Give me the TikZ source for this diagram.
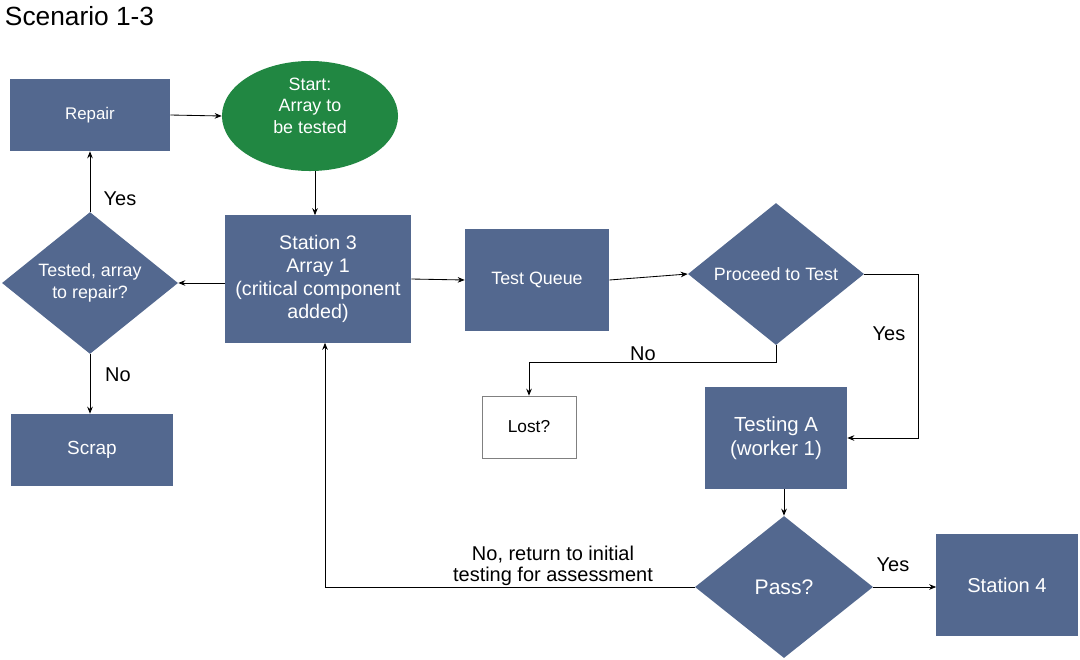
\documentclass[tikz,border=0pt]{standalone}
\usepackage{fontspec}
\setmainfont{Liberation Sans}
\usetikzlibrary{shapes.geometric,arrows.meta}

\definecolor{boxblue}{RGB}{83,104,143}
\definecolor{startgreen}{RGB}{33,135,66}

\tikzset{
  box/.style={rectangle, fill=boxblue, text=white, align=center, inner sep=0pt,
    font=\fontsize{12.7}{15.6}\selectfont},
  decision/.style={diamond, fill=boxblue, text=white, align=center, inner sep=0pt,
    font=\fontsize{12.7}{15.6}\selectfont},
  lbl/.style={font=\fontsize{14.2}{15}\selectfont, align=center},
  arr/.style={line width=0.6pt, -{Stealth[length=5pt,width=4pt]}, black}
}

\begin{document}
\begin{tikzpicture}[x=0.025cm, y=-0.025cm]
  \useasboundingbox (0,0) rectangle (1080,659);

  \node[anchor=west, font=\fontsize{18.7}{20}\selectfont] (title) at (0,16) {Scenario 1-3};

  % left column
  \node[box, minimum width=4cm, minimum height=1.8cm,
    font=\fontsize{12}{15.6}\selectfont] (repair) at (90,115) {Repair};
  \node[decision, minimum width=4.4cm, minimum height=3.525cm] (tested) at (90,283) {Tested, array\\to repair?};
  \node[box, minimum width=4.025cm, minimum height=1.8cm,
    font=\fontsize{13.5}{15.6}\selectfont] (scrap) at (92,450) {Scrap};

  % middle
  \node[ellipse, fill=startgreen, text=white, align=center, inner sep=0pt,
    minimum width=4.4cm, minimum height=2.75cm, text depth=15pt,
    font=\fontsize{12.7}{15.3}\selectfont] (start) at (310,116) {Start:\\Array to\\be tested};
  \node[box, minimum width=4.65cm, minimum height=3.175cm,
    font=\fontsize{14}{16.4}\selectfont] (s3) at (318,279)
    {Station 3\\Array 1\\(critical component\\added)};
  \node[box, minimum width=3.6cm, minimum height=2.525cm] (queue) at (537,280) {Test Queue};
  \node[draw=gray, fill=white, minimum width=2.35cm, minimum height=1.55cm,
    font=\fontsize{12.3}{15.5}\selectfont] (lost) at (529,427) {Lost?};

  % right
  \node[decision, minimum width=4.4cm, minimum height=3.55cm] (proceed) at (776,274) {Proceed to Test};
  \node[box, minimum width=3.55cm, minimum height=2.525cm,
    font=\fontsize{14.5}{17}\selectfont] (testA) at (776,438) {Testing A\\(worker 1)};
  \node[decision, minimum width=4.45cm, minimum height=3.55cm,
    font=\fontsize{15}{17}\selectfont] (pass) at (784,587) {Pass?};
  \node[box, minimum width=3.525cm, minimum height=2.525cm,
    font=\fontsize{14.3}{17}\selectfont] (s4) at (1007,585) {Station 4};

  % connectors
  \draw[arr] (repair.east) -- (start.west);
  \draw[arr] (start.south -| 315,0) -- (s3.north -| 315,0);
  \draw[arr] (s3.west |- tested.east) -- (tested.east);
  \draw[arr] (tested.north) -- (repair.south);
  \draw[arr] (tested.south) -- (tested.south |- scrap.north);
  \draw[arr] (s3.east) -- (queue.west);
  \draw[arr] (queue.east) -- (proceed.west);
  \draw[arr] (proceed.east) -- ++(54,0) |- (testA.east);
  \draw[arr] (proceed.south) -- ++(0,17) -| (lost.north);
  \draw[arr] (pass.north |- testA.south) -- (pass.north);
  \draw[arr] (pass.east) -- (pass.east -| s4.west);
  \draw[arr] (pass.west) -| ([xshift=0.175cm]s3.south);

  % labels
  \node[lbl] (yesrep) at (120,199) {Yes};
  \node[lbl] (noscrap) at (118,375) {No};
  \node[lbl] (yestest) at (889,334) {Yes};
  \node[lbl] (nolost) at (643,354) {No};
  \node[lbl] (yespass) at (893,565) {Yes};
  \node[lbl] (noback) at (553,566)
    {No, return to initial\\testing for assessment};
\end{tikzpicture}
\end{document}
